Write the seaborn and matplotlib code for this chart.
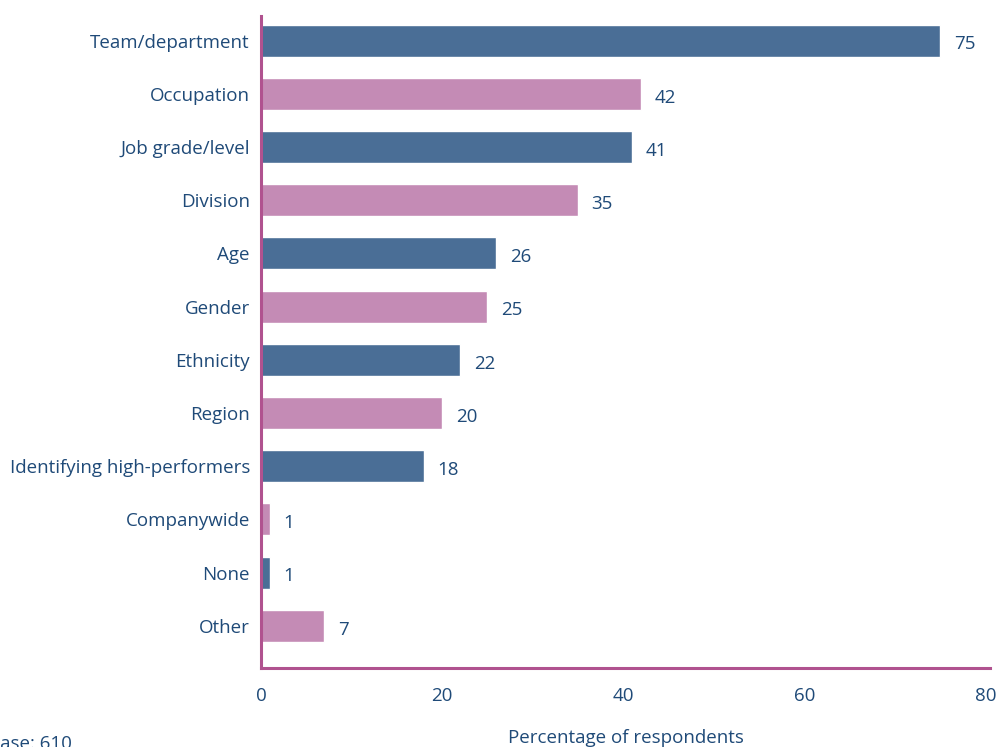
import matplotlib
matplotlib.use("Agg")
import matplotlib.pyplot as plt
import seaborn as sns
import pandas as pd

categories = ["Team/department", "Occupation", "Job grade/level", "Division", "Age",
              "Gender", "Ethnicity", "Region", "Identifying high-performers",
              "Companywide", "None", "Other"]
values = [75, 42, 41, 35, 26, 25, 22, 20, 18, 1, 1, 7]

BLUE = "#4a6e96"
PINK = "#c48bb5"
SPINE = "#b0528f"
TEXT = "#1f4a78"

sns.set_theme(style="white")
plt.rcParams["font.family"] = ["Open Sans", "DejaVu Sans"]

df = pd.DataFrame({"category": categories, "value": values})
palette = {c: (BLUE if i % 2 == 0 else PINK) for i, c in enumerate(categories)}

fig = plt.figure(figsize=(10, 7.47), dpi=100)
ax = fig.add_axes([0.261, 0.106, 0.729, 0.873])

sns.barplot(data=df, x="value", y="category", hue="category", palette=palette,
            order=categories, width=0.6, legend=False, saturation=1, ax=ax)

for i, v in enumerate(values):
    ax.text(v + 1.5, i + 0.07, f"{v}", va="center", ha="left", fontsize=13.5, color=TEXT)

ax.set_xlim(0, 80.5)
ax.set_ylim(11.79, -0.47)
ax.set_xticks([0, 20, 40, 60, 80])
ax.tick_params(axis="both", length=0, labelsize=13.5, labelcolor=TEXT)
ax.tick_params(axis="y", pad=8)
ax.tick_params(axis="x", pad=14)
ax.set_ylabel("")
ax.set_xlabel("Percentage of respondents", fontsize=13.5, color=TEXT, labelpad=17)

for side in ["top", "right"]:
    ax.spines[side].set_visible(False)
for side in ["left", "bottom"]:
    ax.spines[side].set_color(SPINE)
    ax.spines[side].set_linewidth(2.2)

fig.text(-0.012, 0.016, "Base: 610", fontsize=13.5, color=TEXT, ha="left", va="top")

fig.savefig("out.png", dpi=100)
